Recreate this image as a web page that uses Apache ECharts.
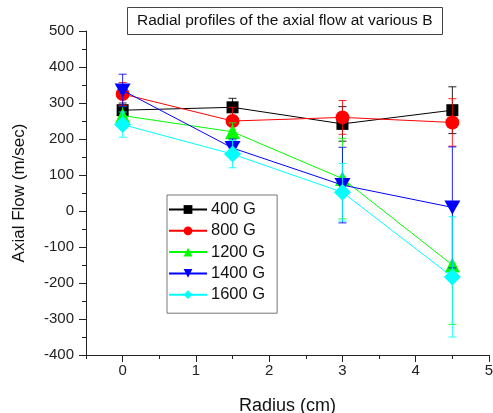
<!DOCTYPE html>
<html><head><meta charset="utf-8">
<script src="https://cdn.jsdelivr.net/npm/echarts@6/dist/echarts.min.js"></script>
<style>html,body{margin:0;padding:0;background:#fff}#c{width:493px;height:413px}</style>
</head><body><div id="c"></div>
<script>
const radius = [0, 1.5, 3, 4.5];
const seriesNames = ['400 G', '800 G', '1200 G', '1400 G', '1600 G'];
const flow400 = [280, 288, 242, 280];
const err400 = [20, 25, 48, 65];
const flow800 = [325, 250, 260, 246];
const err800 = [32, 38, 47, 66];
const flow1200 = [265, 220, 90, -150];
const err1200 = [25, 25, 112, 165];
const flow1400 = [335, 175, 72, 10];
const err1400 = [45, 25, 105, 168];
const flow1600 = [240, 158, 52, -183];
const err1600 = [35, 38, 80, 167];
const xTicks = [0, 1, 2, 3, 4, 5];
const xMinorTicks = [-0.5, 0.5, 1.5, 2.5, 3.5, 4.5];

const colors = ['#000000', '#ff0000', '#00ff00', '#0000ff', '#00ffff'];
const symbols = ['rect', 'circle', 'triangle', 'path://M0,0 L10,0 L5,10 Z', 'diamond'];
const symSizes = [12, 14, 15, [16, 14], 17];
const values = [flow400, flow800, flow1200, flow1400, flow1600];
const errs = [err400, err800, err1200, err1400, err1600];

const chart = echarts.init(document.getElementById('c'), null, {renderer: 'canvas'});
const font = 'Liberation Sans, Arial, sans-serif';
const series = [];
seriesNames.forEach((name, i) => {
  series.push({
    type: 'custom', name: name + ' err', xAxisIndex: 0, yAxisIndex: 0,
    z: 2 + i * 2, silent: true,
    data: radius.map((x, k) => [x, values[i][k] - errs[i][k], values[i][k] + errs[i][k]]),
    encode: {x: 0, y: [1, 2]},
    renderItem: function (params, api) {
      const x = api.value(0);
      const lo = api.coord([x, api.value(1)]);
      const hi = api.coord([x, api.value(2)]);
      const hw = 4;
      const st = {stroke: colors[i], lineWidth: 1, opacity: 0.85};
      return {type: 'group', children: [
        {type: 'line', shape: {x1: lo[0], y1: lo[1], x2: hi[0], y2: hi[1]}, style: st},
        {type: 'line', shape: {x1: lo[0] - hw, y1: lo[1], x2: lo[0] + hw, y2: lo[1]}, style: st},
        {type: 'line', shape: {x1: hi[0] - hw, y1: hi[1], x2: hi[0] + hw, y2: hi[1]}, style: st}
      ]};
    }
  });
  series.push({
    type: 'line', name: name, xAxisIndex: 0, yAxisIndex: 0,
    z: 3 + i * 2,
    data: radius.map((x, k) => [x, values[i][k]]),
    symbol: symbols[i], symbolSize: symSizes[i], showAllSymbol: true,
    lineStyle: {color: colors[i], width: 1},
    itemStyle: {color: colors[i]},
    emphasis: {disabled: true},
    animation: false
  });
});

chart.setOption({
  animation: false,
  title: {
    text: 'Radial profiles of the axial flow at various B',
    left: 127, top: 7,
    padding: [6, 10, 6, 10],
    borderColor: '#444', borderWidth: 1,
    textStyle: {fontFamily: font, fontSize: 15.5, fontWeight: 'normal', color: '#111'}
  },
  legend: {
    data: seriesNames,
    orient: 'vertical', left: 167, top: 195,
    padding: [6, 12, 10, 1],
    itemGap: 4.3, itemWidth: 38, itemHeight: 11,
    borderColor: '#777', borderWidth: 1,
    textStyle: {fontFamily: font, fontSize: 16.5, lineHeight: 16, color: '#111', padding: [0, 0, 0, -1]}
  },
  grid: {left: 86, right: 4, top: 31, bottom: 58, containLabel: false, outerBoundsMode: 'none'},
  xAxis: [{
    type: 'value', min: -0.5, max: 5,
    name: 'Radius (cm)', nameLocation: 'middle', nameGap: 42,
    nameTextStyle: {fontFamily: font, fontSize: 18, color: '#111'},
    axisLine: {onZero: false, lineStyle: {color: '#222', width: 1}},
    axisTick: {show: true, length: 7, inside: false, customValues: xTicks, lineStyle: {color: '#222'}},
    axisLabel: {customValues: xTicks, fontFamily: font, fontSize: 15, color: '#222', margin: 8},
    splitLine: {show: false}
  }, {
    type: 'value', min: -0.5, max: 5, position: 'bottom',
    axisLine: {show: false, onZero: false},
    axisTick: {show: true, length: 4, customValues: xMinorTicks, lineStyle: {color: '#222'}},
    axisLabel: {show: false},
    splitLine: {show: false}
  }],
  yAxis: [{
    type: 'value', min: -400, max: 500, interval: 100,
    name: 'Axial Flow (m/sec)', nameLocation: 'middle', nameGap: 58,
    nameTextStyle: {fontFamily: font, fontSize: 17, color: '#111'},
    axisLine: {show: true, onZero: false, lineStyle: {color: '#222', width: 1}},
    axisTick: {show: true, length: 7, lineStyle: {color: '#222'}},
    minorTick: {show: true, splitNumber: 2, length: 4, lineStyle: {color: '#222'}},
    axisLabel: {fontFamily: font, fontSize: 15, color: '#222', margin: 12},
    splitLine: {show: false}
  }],
  series: series
});
</script></body></html>
